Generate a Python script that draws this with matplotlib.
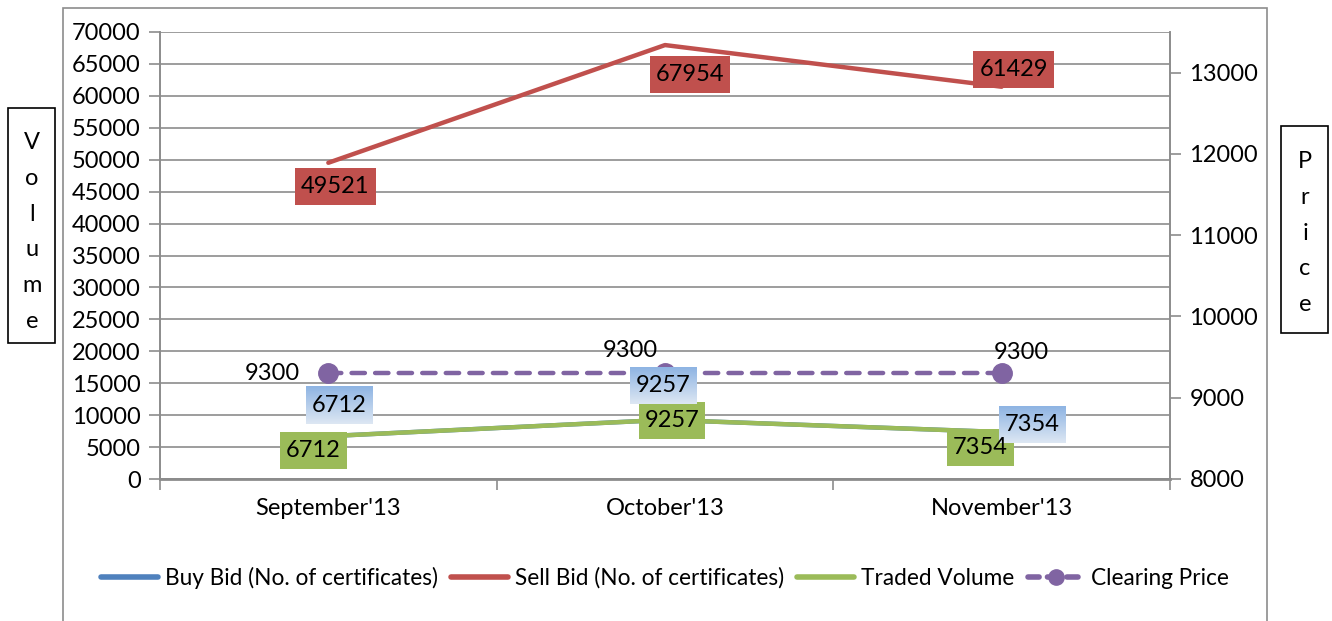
import matplotlib.pyplot as plt
import numpy as np
from matplotlib.lines import Line2D
from matplotlib.patches import Rectangle

plt.rcParams["font.family"] = ["Lato", "DejaVu Sans"]

MONTHS = ["September'13", "October'13", "November'13"]
BUY_BID = [6712, 9257, 7354]
SELL_BID = [49521, 67954, 61429]
TRADED = [6712, 9257, 7354]
CLEARING = [9300, 9300, 9300]

VOL_TICKS = list(range(0, 70001, 5000))
PRICE_TICKS = list(range(8000, 13001, 1000))

BLUE, RED, GREEN, PURPLE = "#4F81BD", "#C0504D", "#9BBB59", "#8064A2"
GRID = "#8C8C8C"
FS = 17

W, H = 1332, 621
fig = plt.figure(figsize=(W / 100, H / 100), dpi=100)
ax = fig.add_axes([160 / W, 1 - 479 / H, (1170 - 160) / W, (479 - 32) / H])
ax2 = ax.twinx()

x = np.arange(len(MONTHS))
ax.plot(x, BUY_BID, color=BLUE, lw=3.2, solid_capstyle="round", zorder=3)
ax.plot(x, SELL_BID, color=RED, lw=3.2, solid_capstyle="round", zorder=3)
ax.plot(x, TRADED, color=GREEN, lw=3.2, solid_capstyle="round", zorder=4)
ax2.plot(x, CLEARING, color=PURPLE, lw=3.2, ls=(0, (3.0, 2.3)),
         dash_capstyle="round", marker="o", ms=14, zorder=3)

ax.set_xlim(-0.5, 2.5)
ax.set_ylim(0, 70000)
ax2.set_ylim(8000, 13500)

ax.set_yticks(VOL_TICKS)
ax.set_yticklabels([str(v) for v in VOL_TICKS])
ax2.set_yticks(PRICE_TICKS)
ax2.set_yticklabels([str(v) for v in PRICE_TICKS])
ax.set_xticks(x)
ax.set_xticklabels(MONTHS)
ax.set_xticks(np.arange(-0.5, 3.0, 1.0), minor=True)

ax.grid(True, axis="y", color=GRID, lw=1.2, zorder=0)
ax.set_axisbelow(True)
ax.tick_params(axis="y", labelsize=FS, length=8, width=1.2, color=GRID, pad=6)
ax.tick_params(axis="x", which="major", labelsize=FS, length=0, pad=14)
ax.tick_params(axis="x", which="minor", length=8, width=1.2, color=GRID)
ax2.tick_params(axis="y", labelsize=FS, length=8, width=1.2, color=GRID, pad=6)

for a in (ax, ax2):
    for s in a.spines.values():
        s.set_color(GRID)
        s.set_linewidth(1.2)
    a.spines["top"].set_visible(False)
ax.spines["bottom"].set_linewidth(2)
ax.patch.set_visible(False)


def label(vals, offsets, trans):
    out = []
    for i, (v, off) in enumerate(zip(vals, offsets)):
        t = ax2.annotate(str(v), xy=(i, v), xycoords=trans, xytext=off,
                         textcoords="offset pixels", ha="center", va="center",
                         fontsize=FS, color="black", zorder=8)
        out.append(t)
    return out


red_labels = label(SELL_BID, [(7, -24), (25, -29), (12, 17)], ax.transData)
green_labels = label(TRADED, [(-15, -14), (7, -1), (-21, -15)], ax.transData)
blue_labels = label(BUY_BID, [(11, 31), (-2, 34), (31, 8)], ax.transData)
for i, (v, off) in enumerate(zip(CLEARING, [(-56, 0), (-35, 23), (20, 21)])):
    ax2.annotate(str(v), xy=(i, v), xytext=off, textcoords="offset pixels",
                 ha="center", va="center", fontsize=FS, color="black", zorder=8)

# boxes behind the data labels (solid for sell/traded, gradient for buy)
fig.canvas.draw()
r = fig.canvas.get_renderer()
grad = np.linspace(0, 1, 64)[:, None, None]
top = np.array([142, 180, 227]) / 255
bot = np.array([221, 231, 243]) / 255
img = top * (1 - grad) + bot * grad
inv = ax2.transData.inverted()
PX = 6


def box_extent(t):
    bb = t.get_window_extent(r)
    cy = (bb.y0 + bb.y1) / 2
    (x0, y0), (x1, y1) = inv.transform([(bb.x0 - PX, cy - 18.5),
                                        (bb.x1 + PX, cy + 18.5)])
    return x0, x1, y0, y1


for labels, col in ((red_labels, RED), (green_labels, GREEN)):
    for t in labels:
        x0, x1, y0, y1 = box_extent(t)
        ax2.add_patch(Rectangle((x0, y0), x1 - x0, y1 - y0, fc=col, ec="none",
                                zorder=7))
for t in blue_labels:
    x0, x1, y0, y1 = box_extent(t)
    ax2.imshow(img, extent=(x0, x1, y0, y1), aspect="auto", origin="upper",
               zorder=7, interpolation="bilinear")
ax2.set_xlim(-0.5, 2.5)
ax2.set_ylim(8000, 13500)

# chart border and axis-title boxes
fig.patches.append(Rectangle((63 / W, -0.01), (1267 - 63) / W, 1 - 8 / H + 0.01,
                             transform=fig.transFigure, fill=False,
                             ec=GRID, lw=1.2))
fig.patches.append(Rectangle((8 / W, 1 - 343 / H), 47 / W, 235 / H,
                             transform=fig.transFigure, fill=False,
                             ec="black", lw=1.2))
fig.patches.append(Rectangle((1281 / W, 1 - 333 / H), 47 / W, 207 / H,
                             transform=fig.transFigure, fill=False,
                             ec="black", lw=1.2))
fig.text(32 / W, 1 - 232 / H, "\n".join("Volume"), ha="center", va="center",
         fontsize=FS, linespacing=1.88)
fig.text(1305 / W, 1 - 233 / H, "\n".join("Price"), ha="center", va="center",
         fontsize=FS, linespacing=1.88)

handles = [
    Line2D([], [], color=BLUE, lw=4, solid_capstyle="round"),
    Line2D([], [], color=RED, lw=4, solid_capstyle="round"),
    Line2D([], [], color=GREEN, lw=4, solid_capstyle="round"),
    Line2D([], [], color=PURPLE, lw=4, ls=(0, (2, 1.5)), dash_capstyle="round",
           marker="o", ms=11),
]
fig.legend(handles, ["Buy Bid (No. of certificates)", "Sell Bid (No. of certificates)",
                     "Traded Volume", "Clearing Price"],
           loc="center", bbox_to_anchor=(665 / W, 1 - 578 / H), ncol=4,
           frameon=False, fontsize=16.3, handlelength=2.5, handletextpad=0.3,
           columnspacing=0.6)

fig.savefig("out.png", dpi=100)
